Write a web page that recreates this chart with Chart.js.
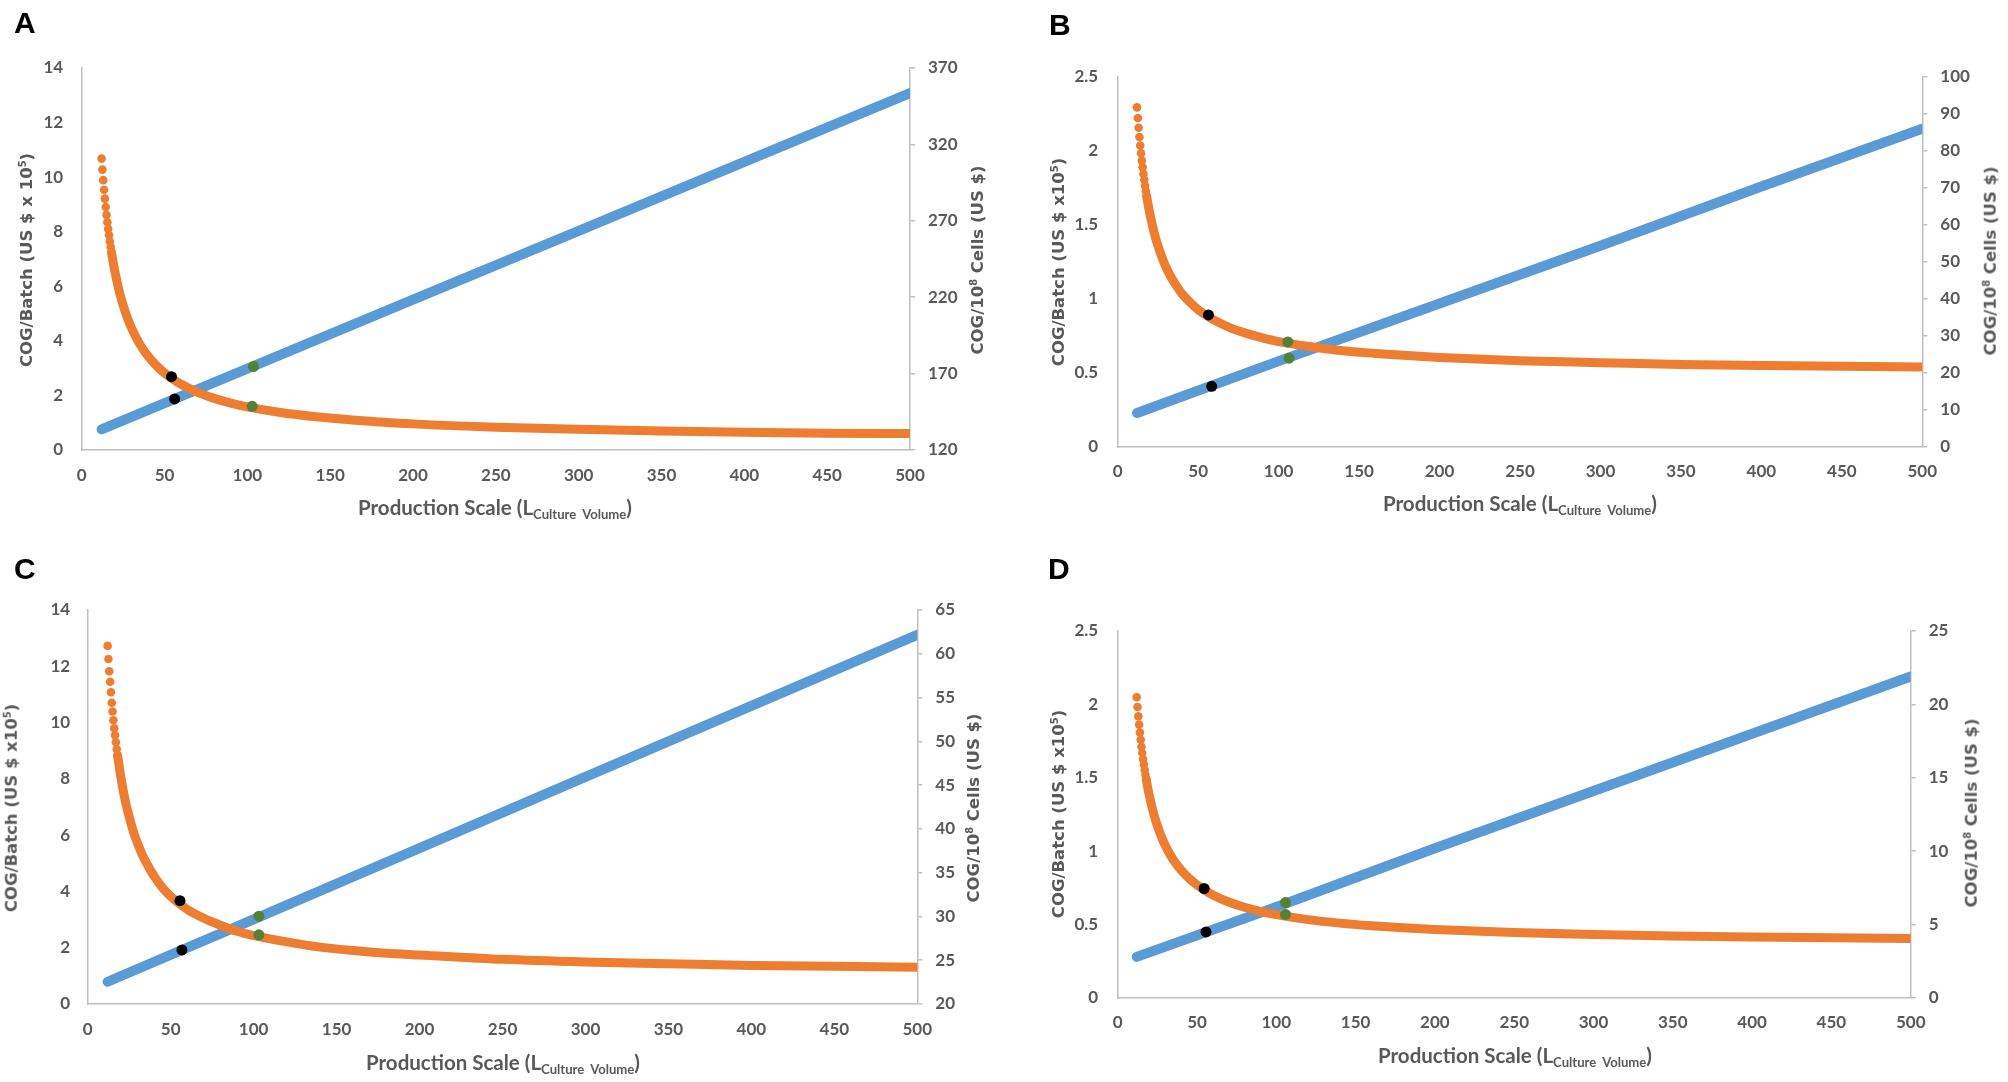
<!DOCTYPE html>
<html><head><meta charset="utf-8">
<script src="https://cdn.jsdelivr.net/npm/chart.js@4.4.0/dist/chart.umd.min.js"></script>
<style>
html,body{margin:0;padding:0;background:#fff;}
body{width:2008px;height:1082px;position:relative;overflow:hidden;}
.pc{position:absolute;width:1004px;height:541px;}
.lbl{position:absolute;font-family:"Liberation Sans",Arial,sans-serif;font-weight:700;font-size:30px;line-height:30px;color:#000;}
.yt{position:absolute;font-family:"DejaVu Sans",sans-serif;font-weight:700;font-size:16.5px;line-height:1;color:#595959;white-space:nowrap;transform:translate(-50%,-50%) rotate(-90deg);}
.xt{position:absolute;font-family:Lato,sans-serif;font-weight:700;font-size:20.5px;line-height:1;color:#595959;white-space:nowrap;transform:translate(-50%,-50%);}
sup{font-size:0.6em;vertical-align:0.6em;line-height:0;}
sub{font-size:0.64em;vertical-align:-0.3em;line-height:0;}
</style></head>
<body>
<div class="pc" style="left:0;top:0"><canvas id="cA" width="1004" height="541"></canvas></div>
<div class="pc" style="left:1004px;top:0"><canvas id="cB" width="1004" height="541"></canvas></div>
<div class="pc" style="left:0;top:541px"><canvas id="cC" width="1004" height="541"></canvas></div>
<div class="pc" style="left:1004px;top:541px"><canvas id="cD" width="1004" height="541"></canvas></div>

<div class="lbl" style="left:14px;top:8px">A</div>
<div class="lbl" style="left:1049px;top:10px">B</div>
<div class="lbl" style="left:14px;top:554px">C</div>
<div class="lbl" style="left:1048px;top:554px">D</div>

<div class="yt" style="left:27px;top:259.5px">COG/Batch (US $ x 10<sup>5</sup>)</div>
<div class="yt" style="left:1058.5px;top:262px">COG/Batch (US $ x10<sup>5</sup>)</div>
<div class="yt" style="left:11.5px;top:808px">COG/Batch (US $ x10<sup>5</sup>)</div>
<div class="yt" style="left:1058.5px;top:814px">COG/Batch (US $ x10<sup>5</sup>)</div>

<div class="yt" style="left:977.6px;top:259.5px">COG/10<sup>8</sup> Cells (US $)</div>
<div class="yt" style="left:1991px;top:261px">COG/10<sup>8</sup> Cells (US $)</div>
<div class="yt" style="left:974px;top:808px">COG/10<sup>8</sup> Cells (US $)</div>
<div class="yt" style="left:1972px;top:813px">COG/10<sup>8</sup> Cells (US $)</div>

<div class="xt" style="left:495px;top:507px">Production Scale (L<sub>Culture&nbsp;&nbsp;Volume</sub>)</div>
<div class="xt" style="left:1520px;top:503.4px">Production Scale (L<sub>Culture&nbsp;&nbsp;Volume</sub>)</div>
<div class="xt" style="left:503px;top:1061.7px">Production Scale (L<sub>Culture&nbsp;&nbsp;Volume</sub>)</div>
<div class="xt" style="left:1515px;top:1055px">Production Scale (L<sub>Culture&nbsp;&nbsp;Volume</sub>)</div>

<script>
// ---------------- DATA ----------------
// Production scale (L culture volume) sample points for the COG/10^8 cells curves
const xCost = [12,12.5,13,13.5,14,14.5,15,15.5,16,16.5,17,17.5,18,19,20,22,24,26,28,30,33,36,40,45,50,55,60,70,80,90,100,120,140,160,180,200,250,300,350,400,450,500];
// COG/10^8 cells (US $), right axis
const costA = [310.7,303.5,296.6,290.3,284.5,279.0,273.9,269.1,264.7,260.5,256.5,252.8,249.3,242.8,237.0,226.9,218.5,211.4,205.3,200.0,193.3,187.7,181.5,175.3,170.4,166.4,163.0,157.7,153.8,150.7,148.2,144.5,141.9,139.9,138.4,137.1,134.9,133.5,132.4,131.6,131.0,130.8];
const costB = [91.8,88.9,86.3,83.8,81.5,79.4,77.4,75.6,73.8,72.2,70.6,69.2,67.8,65.3,63.0,59.1,55.8,53.1,50.7,48.6,46.0,43.9,41.4,39.1,37.1,35.6,34.3,32.2,30.7,29.5,28.5,27.1,26.0,25.3,24.7,24.2,23.3,22.8,22.3,22.0,21.8,21.6];
const costC = [60.9,59.4,58.0,56.8,55.6,54.4,53.4,52.4,51.5,50.7,49.9,49.1,48.4,47.1,45.9,43.8,42.1,40.7,39.4,38.4,37.0,35.9,34.6,33.3,32.3,31.5,30.8,29.8,29.0,28.3,27.8,27.1,26.5,26.1,25.8,25.6,25.1,24.8,24.6,24.4,24.3,24.2];
const costD = [20.49,19.82,19.19,18.62,18.09,17.59,17.12,16.69,16.28,15.90,15.54,15.20,14.88,14.29,13.76,12.84,12.07,11.43,10.87,10.39,9.78,9.27,8.71,8.15,7.70,7.33,7.02,6.54,6.18,5.90,5.68,5.34,5.10,4.92,4.78,4.67,4.46,4.33,4.23,4.16,4.11,4.06];

// COG/Batch (US $ x10^5), left axis
const xBatch = [12,100,200,300,400,500];
const batchA = [0.76,2.98,5.51,8.03,10.56,13.08];
const batchB = [0.23,0.58,0.97,1.36,1.76,2.15];
const batchC = [0.79,3.01,5.54,8.07,10.59,13.12];
const batchD = [0.28,0.62,1.02,1.41,1.80,2.19];

// highlighted points (first = black, second = green)
const costKeyXA = [54.2,102.9],  costKeyYA = [168.0,148.6];
const batchKeyXA = [56.1,103.7], batchKeyYA = [1.87,3.06];
const costKeyXB = [56.4,105.7],  costKeyYB = [35.7,28.4];
const batchKeyXB = [58.4,106.5], batchKeyYB = [0.41,0.60];
const costKeyXC = [55.6,103.2],  costKeyYC = [31.8,27.9];
const batchKeyXC = [56.8,103.2], batchKeyYC = [1.92,3.12];
const costKeyXD = [54.5,105.8],  costKeyYD = [7.46,5.69];
const batchKeyXD = [55.7,105.8], batchKeyYD = [0.45,0.65];

// tick labels
const xTicks = [0,50,100,150,200,250,300,350,400,450,500];
const leftTicksA = [0,2,4,6,8,10,12,14];
const rightTicksA = [120,170,220,270,320,370];
const leftTicksB = [0,0.5,1,1.5,2,2.5];
const rightTicksB = [0,10,20,30,40,50,60,70,80,90,100];
const leftTicksC = [0,2,4,6,8,10,12,14];
const rightTicksC = [20,25,30,35,40,45,50,55,60,65];
const leftTicksD = [0,0.5,1,1.5,2,2.5];
const rightTicksD = [0,5,10,15,20,25];

// ---------------- STYLE ----------------
const ORANGE = '#ED7D31', BLUE = '#5B9BD5', BLACK = '#000000', GREEN = '#548235';
const AXIS = '#bfbfbf', TXT = '#595959';
const tickFont = {family: 'Lato, sans-serif', size: 17, weight: '700'};

function pairs(xs, ys) { return xs.map((x, i) => ({x: x, y: ys[i]})); }
function setTicks(arr) { return s => { s.ticks = arr.map(v => ({value: v})); }; }

function panel(id, d, L) {
  const keyColors = [BLACK, GREEN];
  new Chart(document.getElementById(id), {
    type: 'scatter',
    data: {
      datasets: [
        {data: pairs(d.ckx, d.cky), yAxisID: 'yR', order: 0, showLine: false,
         pointRadius: 5.5, pointBackgroundColor: keyColors, pointBorderWidth: 0},
        {data: pairs(d.bkx, d.bky), yAxisID: 'yL', order: 0, showLine: false,
         pointRadius: 5.5, pointBackgroundColor: keyColors, pointBorderWidth: 0},
        {data: pairs(xCost, d.cost), yAxisID: 'yR', order: 1, showLine: true,
         borderColor: ORANGE, borderWidth: 9, borderCapStyle: 'round', borderJoinStyle: 'round',
         cubicInterpolationMode: 'monotone',
         segment: {borderColor: c => c.p0.parsed.x < 18 ? 'rgba(0,0,0,0)' : ORANGE},
         pointRadius: c => (c.raw && c.raw.x <= 18) ? 4.3 : 0,
         pointBackgroundColor: ORANGE, pointBorderWidth: 0},
        {data: pairs(xBatch, d.batch), yAxisID: 'yL', order: 2, showLine: true,
         borderColor: BLUE, borderWidth: 10, borderCapStyle: 'round', pointRadius: 0}
      ]
    },
    options: {
      responsive: false, animation: false, events: [],
      layout: {padding: {top: L.top, left: 0, right: 0, bottom: 0}},
      plugins: {legend: {display: false}, tooltip: {enabled: false}},
      scales: {
        x: {type: 'linear', min: 0, max: 500, afterBuildTicks: setTicks(xTicks),
            afterFit: s => { s.height = L.xh; },
            grid: {display: false, drawTicks: false, tickLength: 0},
            border: {display: true, color: AXIS, width: 1.5},
            ticks: {color: TXT, font: tickFont, padding: L.xp, autoSkip: false, maxRotation: 0,
                    callback: v => String(v)}},
        yL: {type: 'linear', position: 'left', min: d.lt[0], max: d.lt[d.lt.length - 1],
             afterBuildTicks: setTicks(d.lt), afterFit: s => { s.width = L.lw; },
             grid: {display: false, drawTicks: false, tickLength: 0},
             border: {display: true, color: AXIS, width: 1.5},
             ticks: {color: TXT, font: tickFont, padding: L.lp, autoSkip: false, callback: v => String(v)}},
        yR: {type: 'linear', position: 'right', min: d.rt[0], max: d.rt[d.rt.length - 1],
             afterBuildTicks: setTicks(d.rt), afterFit: s => { s.width = L.rw; },
             grid: {display: true, drawOnChartArea: false, drawTicks: true, tickLength: 5, color: AXIS, lineWidth: 1.5},
             border: {display: true, color: AXIS, width: 1.5},
             ticks: {color: TXT, font: tickFont, padding: 13, autoSkip: false, callback: v => String(v)}}
      }
    }
  });
}

panel('cA', {cost: costA, batch: batchA, ckx: costKeyXA, cky: costKeyYA, bkx: batchKeyXA, bky: batchKeyYA, lt: leftTicksA, rt: rightTicksA},
      {lw: 81.7, rw: 94, top: 68, xh: 91, xp: 15, lp: 18.5});
panel('cB', {cost: costB, batch: batchB, ckx: costKeyXB, cky: costKeyYB, bkx: batchKeyXB, bky: batchKeyYB, lt: leftTicksB, rt: rightTicksB},
      {lw: 113.7, rw: 85.7, top: 77, xh: 94, xp: 14.5, lp: 19.5});
panel('cC', {cost: costC, batch: batchC, ckx: costKeyXC, cky: costKeyYC, bkx: batchKeyXC, bky: batchKeyYC, lt: leftTicksC, rt: rightTicksC},
      {lw: 87.7, rw: 86.7, top: 69, xh: 78, xp: 15, lp: 17.5});
panel('cD', {cost: costD, batch: batchD, ckx: costKeyXD, cky: costKeyYD, bkx: batchKeyXD, bky: batchKeyYD, lt: leftTicksD, rt: rightTicksD},
      {lw: 113.7, rw: 97.3, top: 90, xh: 84, xp: 14, lp: 19.5});
</script>
</body></html>
